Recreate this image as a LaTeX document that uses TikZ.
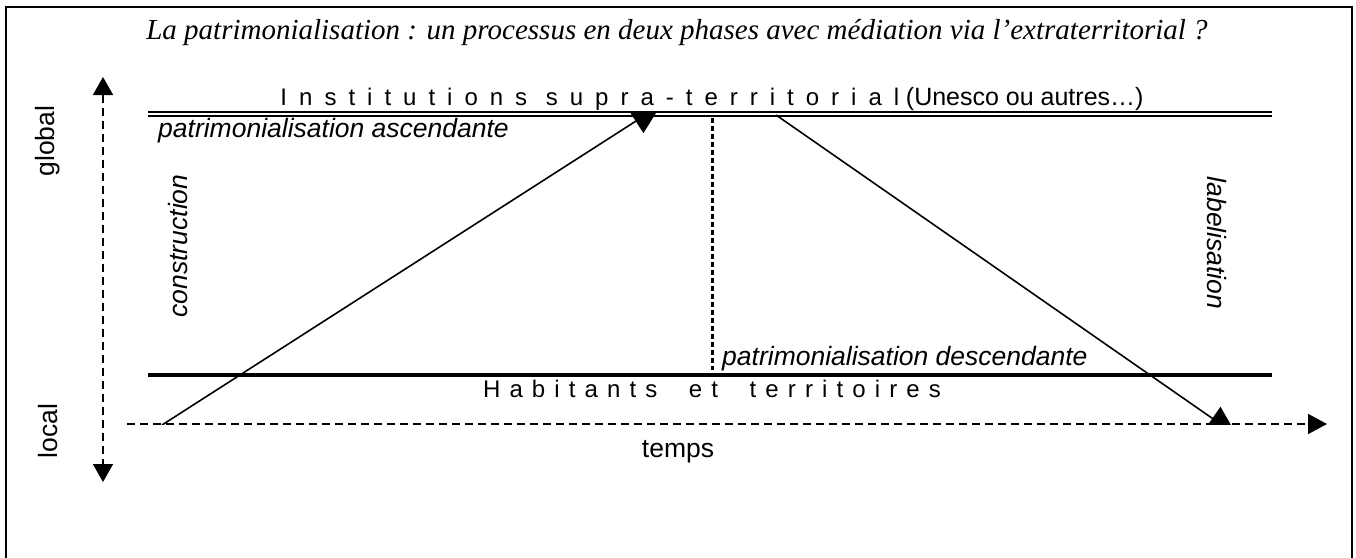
\documentclass[tikz,border=0pt]{standalone}
\usepackage{fontspec}
\setmainfont{Liberation Sans}
\newfontfamily\titlefont{Liberation Serif}
\usetikzlibrary{arrows.meta}
\begin{document}
\begin{tikzpicture}[x=1pt,y=-1pt,
  lbl/.style={inner sep=0pt, font=\fontsize{26.5}{30}\selectfont},
  ilbl/.style={inner sep=0pt, font=\fontsize{26.5}{30}\selectfont\itshape},
  spaced/.style={inner sep=0pt, font=\fontsize{24}{28}\selectfont},
  axisline/.style={line width=1.8pt, dash pattern=on 8pt off 5pt},
  axtip/.style={-{Triangle[width=20pt,length=19pt]}},
  flow/.style={line width=1.6pt, -{Triangle[width=28pt,length=30pt]}},
  frame/.style={line width=2pt}
]
\useasboundingbox (0,0) rectangle (1356,557);
% frame
\coordinate (fbl) at (6,560);
\coordinate (ftl) at (6,7);
\coordinate (ftr) at (1352,7);
\coordinate (fbr) at (1352,560);
\draw[frame] (fbl) -- (ftl) -- (ftr) -- (fbr);
% title
\node[inner sep=0pt, font=\titlefont\itshape\fontsize{29}{33}\selectfont] (title) at (677,33)
  {La patrimonialisation : un processus en deux phases avec médiation via l’extraterritorial ?};
% vertical axis
\coordinate (gtop) at (103,77);
\coordinate (gbot) at (103,482);
\draw[axisline, {Triangle[width=20pt,length=18pt]}-{Triangle[width=20pt,length=18pt]}] (gtop) -- (gbot);
\node[lbl, rotate=90] (global) at (48,141) {global};
\node[lbl, rotate=90] (local) at (48,431) {local};
% supra-territorial level
\coordinate (supL) at (148,114);
\coordinate (supR) at (1272,114);
\draw[line width=1.8pt, double distance=2pt] (supL) -- (supR);
\node[spaced, anchor=base] (inst) at (712,105)
  {{\addfontfeature{LetterSpace=50}Institutions supra-territorial}\ {\fontsize{25}{28}\selectfont(Unesco ou autres…)}};
\node[ilbl, anchor=base west] (asc) at (158,137) {patrimonialisation ascendante};
\node[ilbl, rotate=90] (constr) at (178,246) {construction};
\node[ilbl, rotate=-90] (labl) at (1217,243) {labelisation};
% dotted divider
\coordinate (dtop) at (712,118);
\coordinate (dbot) at (712,370);
\draw[line width=3pt, dash pattern=on 5pt off 3pt] (dtop) -- (dbot);
\node[ilbl, anchor=base west] (desc) at (722,365) {patrimonialisation descendante};
% local level
\coordinate (habL) at (148,375);
\coordinate (habR) at (1272,375);
\draw[line width=4pt] (habL) -- (habR);
\node[spaced, anchor=base] (hab) at (712,397)
  {\addfontfeature{LetterSpace=38}Habitants\ \ et\ \ territoires};
% time axis
\coordinate (tstart) at (127,424);
\coordinate (tend) at (1327,424);
\draw[axisline, axtip] (tstart) -- (tend);
\node[lbl] (temps) at (678,452) {temps};
% flows
\coordinate (a1s) at (162,425);
\coordinate (a1e) at (661,105);
\coordinate (a2s) at (776,115);
\coordinate (a2e) at (1237,435.5);
\begin{scope}
\clip (0,113.5) rectangle (1356,424.5);
\draw[flow] (a1s) -- (a1e);
\draw[flow] (a2s) -- (a2e);
\end{scope}
\end{tikzpicture}
\end{document}
